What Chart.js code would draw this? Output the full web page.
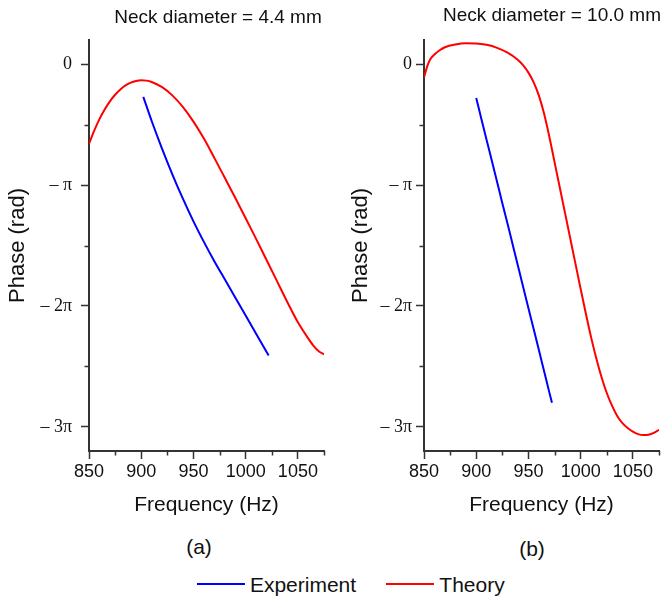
<!DOCTYPE html>
<html>
<head>
<meta charset="utf-8">
<script src="https://cdn.jsdelivr.net/npm/chart.js@4"></script>
<style>
  html, body { margin: 0; padding: 0; background: #fff; }
  body { width: 664px; height: 599px; position: relative; overflow: hidden;
         font-family: "Liberation Sans", Arial, sans-serif; color: #111; }
  canvas { position: absolute; top: 0; }
  .t { position: absolute; white-space: nowrap; line-height: 1; transform: translate(-50%, -50%); }
  .leg { position: absolute; height: 2px; }
</style>
</head>
<body>
<canvas id="cA" width="340" height="530" style="left:0px"></canvas>
<canvas id="cB" width="324" height="530" style="left:340px"></canvas>

<div class="t" style="left:218px; top:16px; font-size:19px;">Neck diameter = 4.4 mm</div>
<div class="t" style="left:552px; top:14px; font-size:19px;">Neck diameter = 10.0 mm</div>
<div class="t" style="left:199px; top:546px; font-size:21px;">(a)</div>
<div class="t" style="left:532px; top:548px; font-size:21px;">(b)</div>

<div class="leg" style="left:197px; top:583px; width:48px; background:#0000ff;"></div>
<div class="t" style="left:303px; top:584px; font-size:21px;">Experiment</div>
<div class="leg" style="left:386px; top:583px; width:48px; background:#ff0000;"></div>
<div class="t" style="left:472px; top:584px; font-size:21px;">Theory</div>

<script>
// ---- Data (phase in units of pi, frequency in Hz) ----
// Panel (a): neck diameter 4.4 mm
const freqExpA  = [902, 910, 920, 930, 940, 950, 960, 970, 980, 990, 1000, 1010, 1022];
const phaseExpA = [-0.27, -0.47, -0.70, -0.915, -1.115, -1.30, -1.47, -1.63, -1.78, -1.93, -2.08, -2.23, -2.41];
const freqThA   = [850, 855, 860, 865, 870, 875, 880, 885, 890, 895, 900, 905, 910, 920, 930, 940, 950, 960, 970, 980, 990, 1000, 1010, 1020, 1030, 1040, 1050, 1060, 1065, 1070, 1075];
const phaseThA  = [-0.66, -0.55, -0.455, -0.375, -0.308, -0.253, -0.209, -0.176, -0.153, -0.139, -0.133, -0.136, -0.147, -0.19, -0.26, -0.355, -0.475, -0.615, -0.775, -0.94, -1.105, -1.275, -1.445, -1.62, -1.795, -1.97, -2.135, -2.27, -2.33, -2.375, -2.40];

// Panel (b): neck diameter 10.0 mm
const freqExpB  = [900, 905, 910, 915, 920, 925, 930, 935, 940, 945, 950, 955, 960, 965, 970, 972.5];
const phaseExpB = [-0.28, -0.455, -0.63, -0.80, -0.975, -1.15, -1.32, -1.495, -1.67, -1.845, -2.02, -2.19, -2.365, -2.54, -2.715, -2.80];
const freqThB   = [850, 853, 856, 860, 865, 870, 880, 890, 900, 910, 920, 930, 940, 945, 950, 955, 960, 965, 970, 975, 980, 985, 990, 995, 1000, 1005, 1010, 1015, 1020, 1025, 1030, 1035, 1040, 1045, 1050, 1055, 1060, 1065, 1070, 1075];
const phaseThB  = [-0.11, -0.02, 0.04, 0.08, 0.115, 0.14, 0.163, 0.173, 0.172, 0.160, 0.135, 0.095, 0.035, -0.01, -0.07, -0.15, -0.26, -0.41, -0.60, -0.81, -1.02, -1.23, -1.44, -1.65, -1.86, -2.065, -2.26, -2.435, -2.59, -2.72, -2.825, -2.91, -2.97, -3.01, -3.04, -3.06, -3.068, -3.065, -3.05, -3.025];

// ---- Axes ----
const freqTicks   = [850, 875, 900, 925, 950, 975, 1000, 1025, 1050, 1075];
const freqLabeled = [850, 900, 950, 1000, 1050];
const phaseTicks  = [0, -0.5, -1, -1.5, -2, -2.5, -3];
const phaseLabeledVals = [0, -1, -2, -3];
const phaseLabelTexts  = ['0', '\u2013 \u03c0', '\u2013 2\u03c0', '\u2013 3\u03c0'];

const AXIS = '#333333';
const SANS = '"Liberation Sans", Arial, sans-serif';
const SERIF = '"Liberation Serif", "Times New Roman", serif';

function pts(xs, ys) { return xs.map((x, i) => ({ x: x, y: ys[i] })); }

const minorTicks = {
  id: 'minorTicks',
  afterDraw(chart) {
    const ctx = chart.ctx;
    const xs = chart.scales.x, ys = chart.scales.y;
    ctx.save();
    ctx.strokeStyle = AXIS;
    ctx.lineWidth = 1.5;
    freqTicks.filter(v => !freqLabeled.includes(v)).forEach(v => {
      const px = Math.round(xs.getPixelForValue(v)) + 0.5;
      ctx.beginPath(); ctx.moveTo(px, xs.top); ctx.lineTo(px, xs.top + 4.5); ctx.stroke();
    });
    phaseTicks.filter(v => !phaseLabeledVals.includes(v)).forEach(v => {
      const py = Math.round(ys.getPixelForValue(v)) + 0.5;
      ctx.beginPath(); ctx.moveTo(ys.right, py); ctx.lineTo(ys.right - 4.5, py); ctx.stroke();
    });
    ctx.restore();
  }
};

function makeChart(id, expX, expY, thX, thY, yWidth, padRight, yTitlePad, yLabelPad) {
  return new Chart(document.getElementById(id), {
    type: 'line',
    data: {
      datasets: [
        { label: 'Experiment', data: pts(expX, expY), borderColor: '#0000ff', borderWidth: 2,
          pointRadius: 0, fill: false, cubicInterpolationMode: 'monotone' },
        { label: 'Theory', data: pts(thX, thY), borderColor: '#ff0000', borderWidth: 2,
          pointRadius: 0, fill: false, cubicInterpolationMode: 'monotone' }
      ]
    },
    options: {
      responsive: false,
      animation: false,
      devicePixelRatio: 1,
      layout: { padding: { left: 0, top: 40, right: padRight, bottom: 0 } },
      plugins: { legend: { display: false }, tooltip: { enabled: false }, title: { display: false } },
      scales: {
        x: {
          type: 'linear', min: 850, max: 1075,
          afterBuildTicks: s => { s.ticks = freqTicks.map(v => ({ value: v })); },
          afterFit: s => { s.height = 79; },
          ticks: {
            autoSkip: false, maxRotation: 0, padding: 2, color: '#111',
            font: { family: SANS, size: 18 },
            callback: v => freqLabeled.includes(v) ? String(v) : ''
          },
          grid: {
            drawOnChartArea: false, drawTicks: true, tickLength: 8, tickWidth: 1.5,
            tickColor: c => (c.tick && freqLabeled.includes(c.tick.value)) ? AXIS : 'rgba(0,0,0,0)'
          },
          border: { display: true, color: AXIS, width: 2 },
          title: { display: true, text: 'Frequency (Hz)', color: '#111',
                   font: { family: SANS, size: 21 }, padding: { top: 0, bottom: 12 } }
        },
        y: {
          type: 'linear', min: -3.2, max: 0.2,
          afterBuildTicks: s => { s.ticks = phaseTicks.map(v => ({ value: v })); },
          afterFit: s => { s.width = yWidth; },
          ticks: {
            autoSkip: false, padding: yLabelPad, color: '#111',
            font: { family: SERIF, size: 18 },
            callback: v => { const i = phaseLabeledVals.indexOf(v); return i >= 0 ? phaseLabelTexts[i] : ''; }
          },
          grid: {
            drawOnChartArea: false, drawTicks: true, tickLength: 8, tickWidth: 1.5,
            tickColor: c => (c.tick && phaseLabeledVals.includes(c.tick.value)) ? AXIS : 'rgba(0,0,0,0)'
          },
          border: { display: true, color: AXIS, width: 2 },
          title: { display: true, text: 'Phase (rad)', color: '#111',
                   font: { family: SANS, size: 22 }, padding: { top: yTitlePad, bottom: 0 } }
        }
      }
    },
    plugins: [minorTicks]
  });
}

makeChart('cA', freqExpA, phaseExpA, freqThA, phaseThA, 89, 16, 5, 9);
makeChart('cB', freqExpB, phaseExpB, freqThB, phaseThB, 84, 5, 8, 4);
</script>
</body>
</html>
